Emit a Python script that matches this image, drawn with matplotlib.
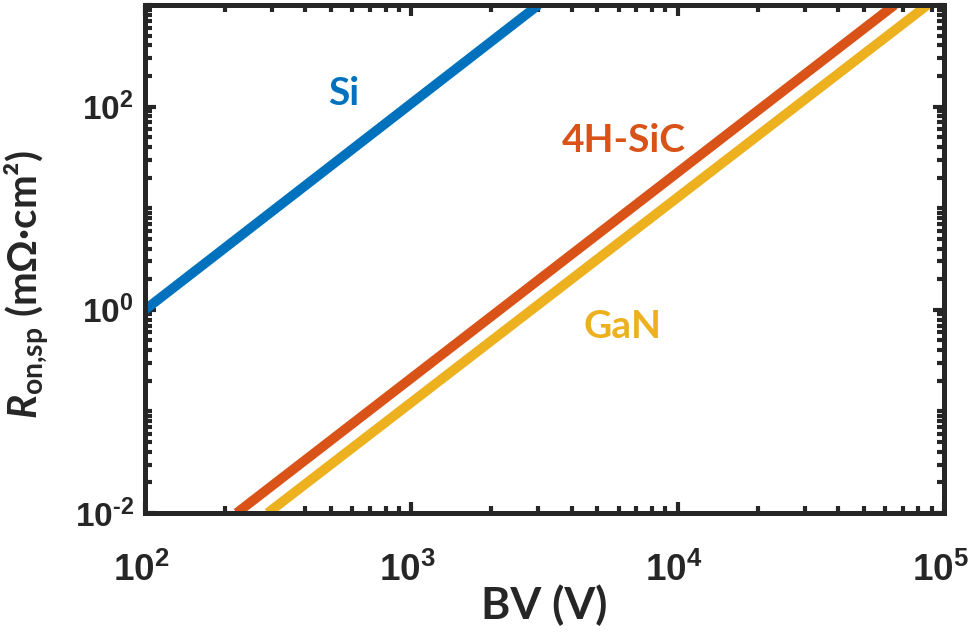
import numpy as np
import matplotlib
matplotlib.use("Agg")
import matplotlib.pyplot as plt
import matplotlib.transforms as mtransforms
from matplotlib.ticker import LogLocator, FixedLocator, NullFormatter

# ---- data ----
bv_si = [100, 3000]
ron_si = [1, 1000]
bv_sic = [221, 65200]
ron_sic = [0.01, 1000]
bv_gan = [289, 86700]
ron_gan = [0.01, 1000]

labels = ["Si", "4H-SiC", "GaN"]
label_x = [558, 6270, 6220]
label_y = [136, 46.9, 0.678]
colors = ["#0072BD", "#D95319", "#EDB120"]

x_major = [1e2, 1e3, 1e4, 1e5]
y_major = [1e-2, 1e0, 1e2]

plt.rcParams['mathtext.fontset'] = 'custom'
plt.rcParams['mathtext.rm'] = 'Liberation Sans:bold'
plt.rcParams['mathtext.it'] = 'Lato:bold:italic'
plt.rcParams['mathtext.sf'] = 'Lato:bold'
plt.rcParams['mathtext.bf'] = 'Liberation Sans:bold'
plt.rcParams['mathtext.default'] = 'rm'

dark = "#262626"


def exp_label(v):
    e = int(round(np.log10(v)))
    if e < 0:
        return r'$10^{\text{-}%d}$' % (-e)
    return r'$10^{%d}$' % e


fig = plt.figure(figsize=(9.71, 6.32), dpi=100)
ax = fig.add_axes([0.1493, 0.1883, 0.8229, 0.8038])

series = [(bv_si, ron_si), (bv_sic, ron_sic), (bv_gan, ron_gan)]
for (bx, ry), c in zip(series, colors):
    ax.plot(bx, ry, color=c, lw=7, solid_capstyle='butt')

ax.set_xscale('log')
ax.set_yscale('log')
ax.set_xlim(1e2, 1e5)
ax.set_ylim(1e-2, 1e3)

ax.xaxis.set_major_locator(FixedLocator(x_major))
ax.yaxis.set_major_locator(FixedLocator(y_major))
ax.xaxis.set_minor_locator(LogLocator(base=10, subs=np.arange(2, 10), numticks=50))
ax.yaxis.set_minor_locator(LogLocator(base=10, subs=np.arange(1, 10), numticks=50))
ax.xaxis.set_minor_formatter(NullFormatter())
ax.yaxis.set_minor_formatter(NullFormatter())

ax.set_xticklabels([exp_label(v) for v in x_major])
ax.set_yticklabels([exp_label(v) for v in y_major])

ax.tick_params(which='both', direction='in', top=True, right=True,
               color=dark, width=3, labelcolor=dark)
ax.tick_params(which='major', length=8)
ax.tick_params(which='minor', length=5)
ax.tick_params(axis='x', which='major', labelsize=26.5, pad=28)
ax.tick_params(axis='y', which='major', labelsize=24, pad=8)

shift = mtransforms.ScaledTranslation(-4 / 100, 0, fig.dpi_scale_trans)
for lab in ax.get_xticklabels():
    lab.set_transform(lab.get_transform() + shift)

for s in ax.spines.values():
    s.set_linewidth(3.6)
    s.set_color(dark)

for t, x, y, c in zip(labels, label_x, label_y, colors):
    ax.text(x, y, t, color=c, fontsize=28, fontweight='bold', family='Lato',
            ha='center', va='center')

ax.set_xlabel('BV (V)', fontsize=32, fontweight='bold', family='Lato', color=dark)
ax.set_ylabel(r'$\mathit{R}_{\mathsf{on{,}sp}}$ (mΩ·cm²)', fontsize=29, fontweight='bold',
              family='Lato', color=dark)
ax.xaxis.set_label_coords(0.5, -0.14)
ax.yaxis.set_label_coords(-0.117, 0.449)

fig.savefig('out.png', dpi=100)
